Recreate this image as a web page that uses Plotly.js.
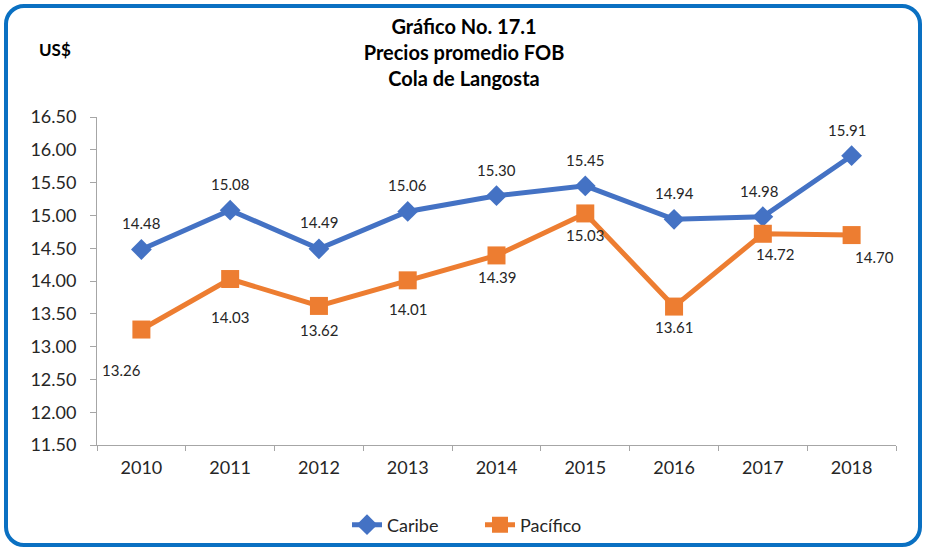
<!DOCTYPE html>
<html>
<head>
<meta charset="utf-8">
<script src="https://cdn.plot.ly/plotly-3.0.1.min.js"></script>
<style>
  html, body { margin: 0; padding: 0; background: #fff; }
  #wrap { position: relative; width: 928px; height: 550px; }
  #chart { position: absolute; left: 0; top: 0; width: 928px; height: 550px; }
  #frame { position: absolute; left: 4px; top: 4px; width: 918px; height: 543px; box-sizing: border-box;
           border: 4px solid #0A70C2; border-radius: 20px; pointer-events: none; }
</style>
</head>
<body>
<div id="wrap">
  <div id="chart"></div>
  <div id="frame"></div>
</div>
<script>
const years = ['2010','2011','2012','2013','2014','2015','2016','2017','2018'];
const caribe = [14.48, 15.08, 14.49, 15.06, 15.30, 15.45, 14.94, 14.98, 15.91];
const pacifico = [13.26, 14.03, 13.62, 14.01, 14.39, 15.03, 13.61, 14.72, 14.70];
const yTicks = [11.5, 12, 12.5, 13, 13.5, 14, 14.5, 15, 15.5, 16, 16.5];

// label offsets (pixels)
const caribeShift = [[0,27],[0,26],[0,27],[0,26],[0,26],[0,26],[0,26],[-4,26],[-5,26]];
const pacShift = [[-20,-40],[0,-38],[0,-24],[0,-29],[0,-22],[0,-22],[0,-20],[12,-20],[23,-22]];

const fontFam = 'Lato, "Open Sans", sans-serif';
const blue = '#4472C4';
const orange = '#ED7D31';

const traces = [
  { x: years, y: caribe, name: 'Caribe', type: 'scatter', mode: 'lines+markers',
    line: { color: blue, width: 5 },
    marker: { symbol: 'diamond', size: 16, color: blue } },
  { x: years, y: pacifico, name: 'Pacífico', type: 'scatter', mode: 'lines+markers',
    line: { color: orange, width: 5 },
    marker: { symbol: 'square', size: 18, color: orange } }
];

const annotations = [];
caribe.forEach((v, i) => annotations.push({
  x: i, y: v, xref: 'x', yref: 'y', text: v.toFixed(2), showarrow: false,
  xshift: caribeShift[i][0], yshift: caribeShift[i][1],
  font: { family: fontFam, size: 15, color: '#262626' }
}));
pacifico.forEach((v, i) => annotations.push({
  x: i, y: v, xref: 'x', yref: 'y', text: v.toFixed(2), showarrow: false,
  xshift: pacShift[i][0], yshift: pacShift[i][1],
  font: { family: fontFam, size: 15, color: '#262626' }
}));
annotations.push({
  x: (55 - 97) / (896 - 97), y: 1 + (117 - 50) / (445 - 117),
  xref: 'paper', yref: 'paper', xanchor: 'center', yanchor: 'middle',
  text: '<b>US$</b>', showarrow: false,
  font: { family: fontFam, size: 17, color: '#000' }
});

const layout = {
  width: 928, height: 550,
  margin: { l: 97, r: 32, t: 117, b: 105 },
  paper_bgcolor: '#fff', plot_bgcolor: '#fff',
  title: {
    text: '<b>Gráfico No. 17.1<br>Precios promedio FOB<br>Cola de Langosta</b>',
    x: 0.5, xref: 'container', xanchor: 'center',
    y: 1 - 34 / 550, yref: 'container', yanchor: 'middle',
    font: { family: fontFam, size: 20, color: '#000' }
  },
  xaxis: {
    type: 'category', showgrid: false, zeroline: false,
    showline: true, linecolor: '#A6A6A6', linewidth: 1,
    ticks: 'outside', tickson: 'boundaries', ticklen: 5, tickcolor: '#A6A6A6',
    ticklabelstandoff: 6,
    tickfont: { family: fontFam, size: 18, color: '#262626' },
    range: [-0.5, 8.5], fixedrange: true
  },
  yaxis: {
    range: [11.5, 16.5], tickvals: yTicks, ticktext: yTicks.map(v => v.toFixed(2)),
    showgrid: false, zeroline: false,
    showline: true, linecolor: '#A6A6A6', linewidth: 1,
    ticks: 'outside', ticklen: 6, tickcolor: '#A6A6A6',
    ticklabelstandoff: 10,
    tickfont: { family: fontFam, size: 18, color: '#262626' },
    fixedrange: true
  },
  showlegend: true,
  legend: {
    orientation: 'h', x: 0.5 + 16 / 928, xref: 'container', xanchor: 'center',
    y: 1 - 525 / 550, yref: 'container', yanchor: 'middle',
    font: { family: fontFam, size: 18, color: '#262626' },
    entrywidth: 88, entrywidthmode: 'pixels',
    tracegroupgap: 0
  },
  annotations: annotations
};

Plotly.newPlot('chart', traces, layout, { displayModeBar: false, staticPlot: true });
</script>
</body>
</html>
